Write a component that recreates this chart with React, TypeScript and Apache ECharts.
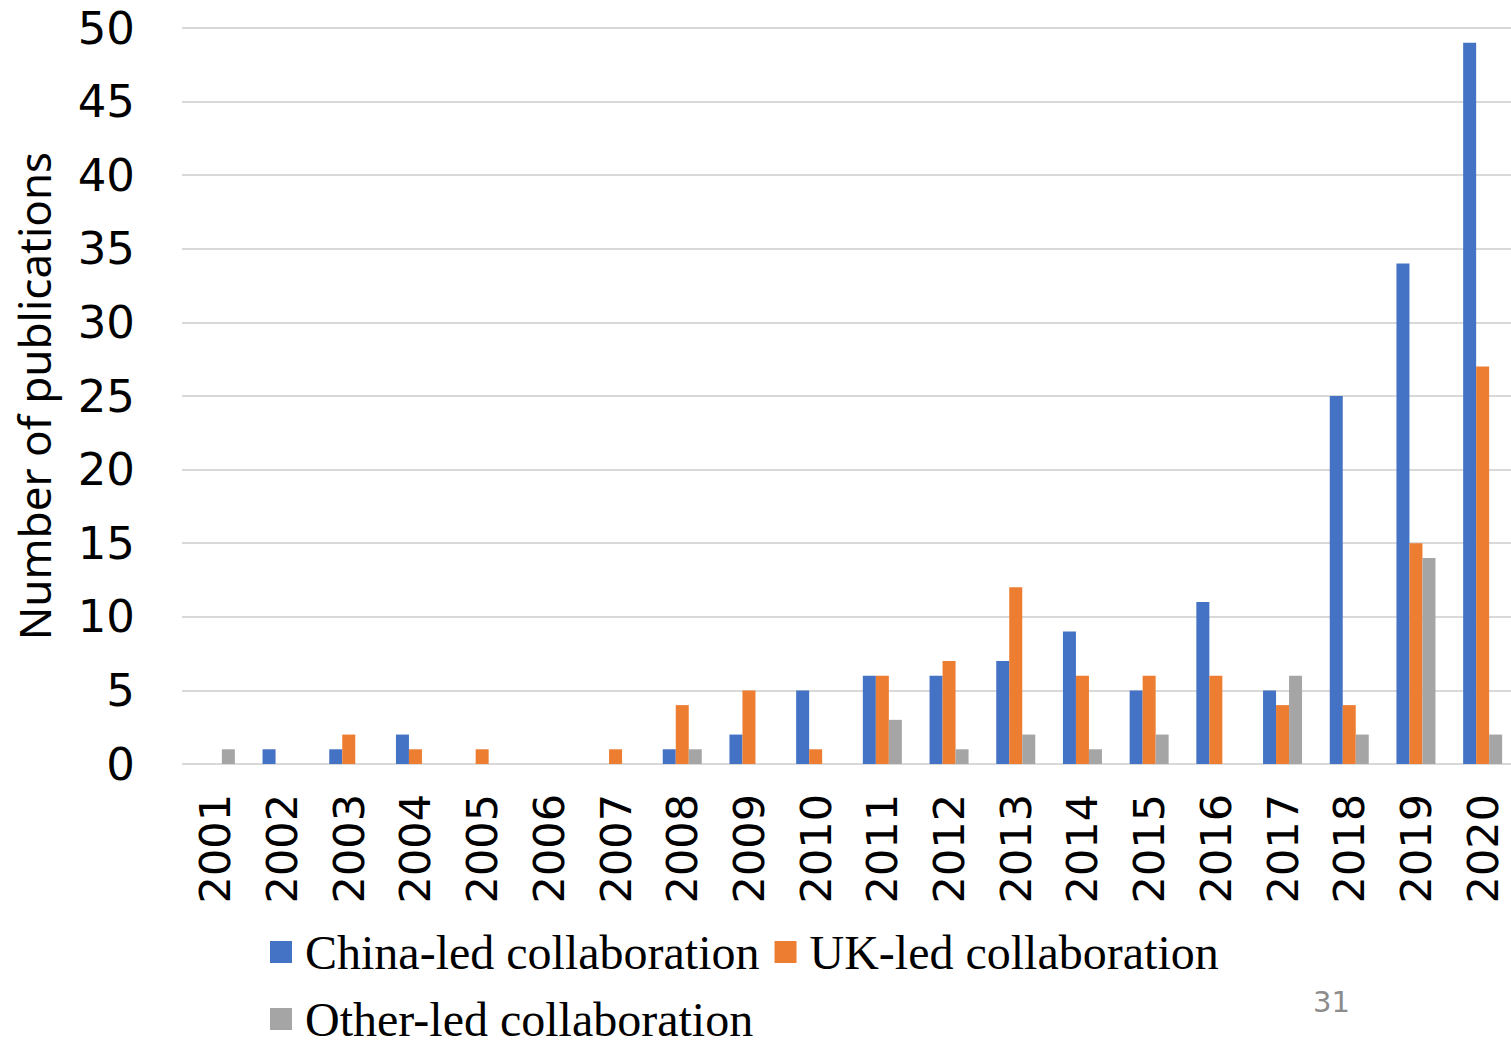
import React, { useEffect, useRef } from "react";
import * as echarts from "echarts";

const years = [
  "2001", "2002", "2003", "2004", "2005", "2006", "2007", "2008", "2009", "2010",
  "2011", "2012", "2013", "2014", "2015", "2016", "2017", "2018", "2019", "2020",
];
const chinaLed = [0, 1, 1, 2, 0, 0, 0, 1, 2, 5, 6, 6, 7, 9, 5, 11, 5, 25, 34, 49];
const ukLed = [0, 0, 2, 1, 1, 0, 1, 4, 5, 1, 6, 7, 12, 6, 6, 6, 4, 4, 15, 27];
const otherLed = [1, 0, 0, 0, 0, 0, 0, 1, 0, 0, 3, 1, 2, 1, 2, 0, 6, 2, 14, 2];
const seriesNames = ["China-led collaboration", "UK-led collaboration", "Other-led collaboration"];
const seriesColors = ["#4472C4", "#ED7D31", "#A5A5A5"];
const yTicks = { min: 0, max: 50, interval: 5 };

export default function App() {
  const ref = useRef<HTMLDivElement>(null);

  useEffect(() => {
    if (!ref.current) return;
    const chart = echarts.init(ref.current, undefined, { renderer: "svg" });
    const values = [chinaLed, ukLed, otherLed];
    chart.setOption({
      animation: false,
      backgroundColor: "#ffffff",
      grid: { left: 182, right: 0, top: 28, bottom: 276, containLabel: false },
      legend: {
        left: 265,
        top: 921,
        width: 990,
        itemWidth: 22,
        itemHeight: 22,
        itemGap: 15,
        icon: "rect",
        textStyle: {
          fontFamily: "Liberation Serif",
          fontSize: 48,
          color: "#000000",
          lineHeight: 52,
          padding: [0, 0, 0, 8],
        },
        data: seriesNames,
      },
      xAxis: {
        type: "category",
        data: years,
        axisLine: { show: false },
        axisTick: { show: false },
        axisLabel: {
          rotate: 90,
          margin: 30,
          fontFamily: "DejaVu Sans",
          fontSize: 43,
          color: "#000000",
          interval: 0,
        },
      },
      yAxis: {
        type: "value",
        min: yTicks.min,
        max: yTicks.max,
        interval: yTicks.interval,
        name: "Number of publications",
        nameLocation: "middle",
        nameGap: 126,
        nameTextStyle: {
          fontFamily: "Noto Sans",
          fontSize: 44,
          color: "#000000",
        },
        axisLine: { show: false },
        axisTick: { show: false },
        splitLine: { lineStyle: { color: "#d9d9d9", width: 2 } },
        axisLabel: {
          margin: 47,
          fontFamily: "DejaVu Sans",
          fontSize: 45,
          color: "#000000",
        },
      },
      series: seriesNames.map((name, i) => ({
        name,
        type: "bar",
        data: values[i],
        barWidth: 13,
        barGap: "0%",
        itemStyle: { color: seriesColors[i] },
      })),
      graphic: [
        {
          type: "text",
          left: 1313,
          top: 987,
          style: {
            text: "31",
            fontFamily: "DejaVu Sans",
            fontSize: 29,
            fill: "#8c8c8c",
          },
        },
      ],
    });
    return () => chart.dispose();
  }, []);

  // The chart canvas is a little wider than the visible frame, so the last
  // category band runs past the right edge.
  return (
    <div
      style={{
        position: "absolute",
        left: 0,
        top: 0,
        width: 1511,
        height: 1040,
        overflow: "hidden",
      }}
    >
      <div ref={ref} style={{ width: 1516, height: 1040 }} />
    </div>
  );
}
